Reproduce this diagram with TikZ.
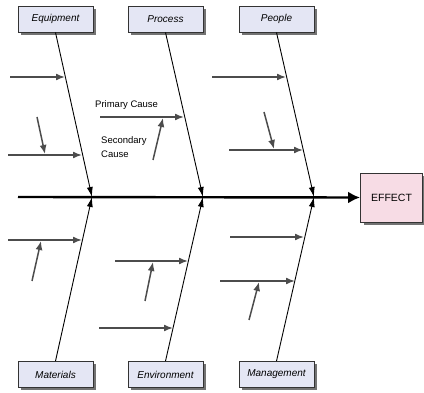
\documentclass[tikz,border=0pt]{standalone}
\usepackage{fontspec}
\setsansfont{Liberation Sans}
\usetikzlibrary{positioning,shadows,arrows.meta}
\definecolor{boxblue}{RGB}{228,230,244}
\definecolor{boxpink}{RGB}{247,220,229}

\begin{document}
\begin{tikzpicture}[x=1pt, y=-1pt,
        catbox/.style={rectangle, draw=black!80, line width=0.9pt, fill=boxblue, text=black, font=\sffamily\itshape\fontsize{10}{11}\selectfont, minimum width=75pt, minimum height=26pt, drop shadow={shadow xshift=3pt, shadow yshift=-3pt, fill=black!55, opacity=1}},
        effectbox/.style={rectangle, draw=black!80, line width=0.9pt, fill=boxpink, text=black, font=\sffamily\fontsize{10.5}{12}\selectfont, minimum width=62pt, minimum height=49pt, drop shadow={shadow xshift=3pt, shadow yshift=-3pt, fill=black!55, opacity=1}},
        bone/.style={-{Latex[length=10pt,width=6pt]}, black, line width=0.9pt},
        cause/.style={-{Latex[length=9pt,width=7pt]}, black!70, line width=1.5pt},
        spine/.style={-{Latex[length=12pt,width=12pt]}, black, line width=2.4pt},
        label/.style={font=\sffamily\fontsize{9.5}{14}\selectfont, align=left, inner sep=0pt}
    ]
    \useasboundingbox (0,0) rectangle (424,393);

    % Category boxes
    \node[catbox] (equip) at (55.5, 19) {Equipment};
    \node[catbox] (proc) at (165.5, 19) {Process};
    \node[catbox] (people) at (276.5, 19) {People};
    \node[catbox] (mater) at (55.5, 374.5) {Materials};
    \node[catbox] (env) at (165.5, 374.5) {Environment};
    \node[catbox] (mgmt) at (276.5, 374.5) {Management};
    \node[effectbox] (effect) at (391.5, 197.5) {EFFECT};

    % Spine and bones
    \coordinate (start) at (18, 197);
    \coordinate (j1) at (92, 197);
    \coordinate (j2) at (203, 197);
    \coordinate (j3) at (314, 197);
    \draw[spine] (start) -- (effect.west);
    \draw[bone] (equip.south) -- (j1);
    \draw[bone] (proc.south) -- (j2);
    \draw[bone] (people.south) -- (j3);
    \draw[bone] (mater.north) -- (j1);
    \draw[bone] (env.north) -- (j2);
    \draw[bone] (mgmt.north) -- (j3);

    % Equipment causes
    \coordinate (eq1a) at (10, 77);   \coordinate (eq1b) at (65, 77);
    \coordinate (eq2a) at (8, 155);   \coordinate (eq2b) at (82, 155);
    \coordinate (eq3a) at (37, 117);  \coordinate (eq3b) at (45, 154);
    \draw[cause] (eq1a) -- (eq1b);
    \draw[cause] (eq2a) -- (eq2b);
    \draw[cause] (eq3a) -- (eq3b);

    % Process causes
    \coordinate (pr1a) at (100, 117); \coordinate (pr1b) at (184, 117);
    \coordinate (pr2a) at (153, 160); \coordinate (pr2b) at (163, 118);
    \draw[cause] (pr1a) -- (pr1b);
    \draw[cause] (pr2a) -- (pr2b);
    \node[label, anchor=west] (primary) at (95, 105) {Primary Cause};
    \node[label, anchor=west] (secondary) at (101, 147) {Secondary\\Cause};

    % People causes
    \coordinate (pe1a) at (212, 77);  \coordinate (pe1b) at (286, 77);
    \coordinate (pe2a) at (229, 150); \coordinate (pe2b) at (303, 150);
    \coordinate (pe3a) at (264, 112); \coordinate (pe3b) at (274, 149);
    \draw[cause] (pe1a) -- (pe1b);
    \draw[cause] (pe2a) -- (pe2b);
    \draw[cause] (pe3a) -- (pe3b);

    % Materials causes
    \coordinate (ma1a) at (8, 240);   \coordinate (ma1b) at (82, 240);
    \coordinate (ma2a) at (32, 281);  \coordinate (ma2b) at (41, 241);
    \draw[cause] (ma1a) -- (ma1b);
    \draw[cause] (ma2a) -- (ma2b);

    % Environment causes
    \coordinate (en1a) at (115, 261); \coordinate (en1b) at (188, 261);
    \coordinate (en2a) at (99, 328);  \coordinate (en2b) at (173, 328);
    \coordinate (en3a) at (145, 301); \coordinate (en3b) at (153, 262);
    \draw[cause] (en1a) -- (en1b);
    \draw[cause] (en2a) -- (en2b);
    \draw[cause] (en3a) -- (en3b);

    % Management causes
    \coordinate (mg1a) at (230, 237); \coordinate (mg1b) at (304, 237);
    \coordinate (mg2a) at (220, 281); \coordinate (mg2b) at (295, 281);
    \coordinate (mg3a) at (249, 320); \coordinate (mg3b) at (259, 282);
    \draw[cause] (mg1a) -- (mg1b);
    \draw[cause] (mg2a) -- (mg2b);
    \draw[cause] (mg3a) -- (mg3b);
\end{tikzpicture}
\end{document}
